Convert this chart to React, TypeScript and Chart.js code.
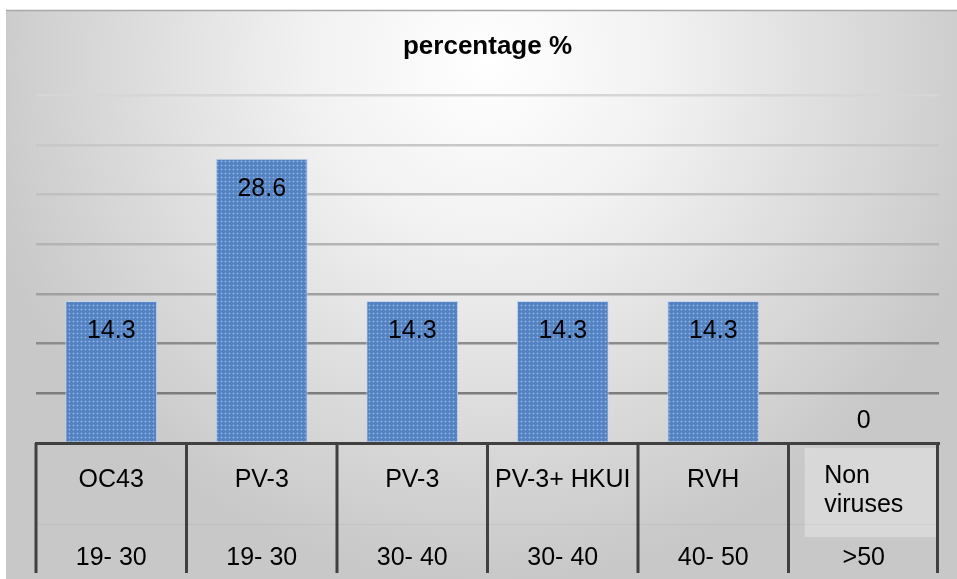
import React, { useEffect, useRef } from 'react';
import { Chart, registerables } from 'chart.js';

Chart.register(...registerables);

const chartTitle = 'percentage %';
const virusLabels: string[][] = [['OC43'], ['PV-3'], ['PV-3'], ['PV-3+ HKUI'], ['RVH'], ['Non', 'viruses']];
const ageGroups = ['19- 30', '19- 30', '30- 40', '30- 40', '40- 50', '>50'];
const percentages = [14.3, 28.6, 14.3, 14.3, 14.3, 0];
const yMin = 0;
const yMax = 35;
const yStep = 5;

const FONT = '"Liberation Sans", Arial, sans-serif';
const gridColors: Record<number, string> = {
  0: 'rgba(0,0,0,0)',
  5: '#7c7c7c',
  10: '#8c8c8c',
  15: '#a0a0a0',
  20: '#b4b4b4',
  25: '#c0c0c0',
  30: '#c8c8c8',
  35: '#d6d6d6',
};

function makePattern(): CanvasPattern | string {
  const c = document.createElement('canvas');
  c.width = 4;
  c.height = 4;
  const g = c.getContext('2d');
  if (!g) return '#5b89c8';
  g.fillStyle = '#5282c2';
  g.fillRect(0, 0, 4, 4);
  g.fillStyle = '#6e96d0';
  g.fillRect(0, 1, 3, 1);
  g.fillRect(1, 0, 1, 3);
  g.fillStyle = '#8fb0de';
  g.fillRect(1, 1, 1, 1);
  const p = g.createPattern(c, 'repeat');
  return p || '#5b89c8';
}

const backgroundPlugin = {
  id: 'frameBg',
  beforeDraw(chart: any) {
    const ctx = chart.ctx as CanvasRenderingContext2D;
    const W = chart.width;
    const H = chart.height;
    ctx.save();
    ctx.fillStyle = '#ffffff';
    ctx.fillRect(0, 0, W, H);
    const grad = ctx.createRadialGradient(487, 60, 0, 487, 60, 520);
    grad.addColorStop(0, '#ffffff');
    grad.addColorStop(0.35, '#f1f1f1');
    grad.addColorStop(1, '#c8c8c8');
    ctx.fillStyle = grad;
    ctx.fillRect(6, 10, W - 6, H - 10);
    ctx.strokeStyle = '#a8a8a8';
    ctx.lineWidth = 1.5;
    ctx.beginPath();
    ctx.moveTo(6, 10.5);
    ctx.lineTo(W, 10.5);
    ctx.stroke();
    ctx.restore();
  },
};

const valueLabelPlugin = {
  id: 'valueLabels',
  afterDatasetsDraw(chart: any) {
    const ctx = chart.ctx as CanvasRenderingContext2D;
    const meta = chart.getDatasetMeta(0);
    ctx.save();
    ctx.font = `25px ${FONT}`;
    ctx.fillStyle = '#000000';
    ctx.textAlign = 'center';
    ctx.textBaseline = 'alphabetic';
    meta.data.forEach((bar: any, i: number) => {
      const v = percentages[i];
      const y = v > 0 ? bar.y + 37 : bar.base - 15;
      ctx.fillText(String(v), bar.x, y);
    });
    ctx.restore();
  },
};

const categoryTablePlugin = {
  id: 'categoryTable',
  afterDraw(chart: any) {
    const ctx = chart.ctx as CanvasRenderingContext2D;
    const xs = chart.scales.x;
    const base = chart.chartArea.bottom;
    const n = ageGroups.length;
    const half = (xs.getPixelForValue(1) - xs.getPixelForValue(0)) / 2;
    const left = xs.getPixelForValue(0) - half;
    const right = xs.getPixelForValue(n - 1) + half;
    ctx.save();
    ctx.strokeStyle = 'rgba(0,0,0,0.05)';
    ctx.lineWidth = 1;
    ctx.beginPath();
    ctx.moveTo(left, base + 81.5);
    ctx.lineTo(right, base + 81.5);
    ctx.stroke();

    ctx.font = `25px ${FONT}`;
    ctx.fillStyle = '#000000';
    ctx.textBaseline = 'alphabetic';
    for (let i = 0; i < n; i++) {
      const cx = xs.getPixelForValue(i);
      const lines = virusLabels[i];
      if (lines.length > 1) {
        const boxL = cx - 59;
        const boxR = cx + half - 2;
        ctx.fillStyle = 'rgba(255,255,255,0.3)';
        ctx.fillRect(boxL, base + 5, boxR - boxL, 89);
        ctx.fillStyle = '#000000';
        const maxW = Math.max(...lines.map((l) => ctx.measureText(l).width));
        ctx.textAlign = 'left';
        lines.forEach((l, k) => ctx.fillText(l, cx - maxW / 2, base + 40 + k * 29));
      } else {
        ctx.textAlign = 'center';
        ctx.fillText(lines[0], cx, base + 44);
      }
      ctx.textAlign = 'center';
      ctx.fillText(ageGroups[i], cx, base + 122);
    }

    ctx.strokeStyle = '#404040';
    ctx.lineWidth = 3;
    for (let i = 0; i <= n; i++) {
      const x = Math.min(left + i * 2 * half, right - 1.5);
      ctx.beginPath();
      ctx.moveTo(x, base);
      ctx.lineTo(x, base + 130);
      ctx.stroke();
    }
    ctx.restore();
  },
};

export default function App() {
  const ref = useRef<HTMLCanvasElement | null>(null);
  useEffect(() => {
    if (!ref.current) return;
    const chart = new Chart(ref.current, {
      type: 'bar',
      data: {
        labels: virusLabels.map((l) => l.join(' ')),
        datasets: [
          {
            label: chartTitle,
            data: percentages,
            backgroundColor: makePattern() as any,
            borderColor: '#c5d6ee',
            borderWidth: 1,
            barPercentage: 0.61,
            categoryPercentage: 1,
          },
        ],
      },
      options: {
        animation: false,
        responsive: false,
        devicePixelRatio: 1,
        layout: { padding: { left: 36, right: 18, top: 16, bottom: 128 } },
        plugins: {
          legend: { display: false },
          tooltip: { enabled: false },
          title: {
            display: true,
            text: chartTitle,
            color: '#000000',
            font: { family: FONT, size: 26, weight: 'bold' },
            padding: { top: 15, bottom: 33 },
          },
        },
        scales: {
          x: {
            display: true,
            ticks: { display: false },
            grid: { display: false },
            border: { display: true, color: '#404040', width: 3 },
          },
          y: {
            display: true,
            min: yMin,
            max: yMax,
            ticks: { display: false, stepSize: yStep },
            border: { display: false },
            grid: {
              drawTicks: false,
              lineWidth: 2.5,
              color: (c: any) => gridColors[c.tick?.value] ?? '#b0b0b0',
            },
          },
        },
      },
      plugins: [backgroundPlugin, valueLabelPlugin, categoryTablePlugin],
    });
    return () => chart.destroy();
  }, []);
  return (
    <div style={{ position: 'absolute', left: 0, top: 0, width: 957, height: 579 }}>
      <canvas ref={ref} width={957} height={579} style={{ display: 'block', width: 957, height: 579 }} />
    </div>
  );
}
